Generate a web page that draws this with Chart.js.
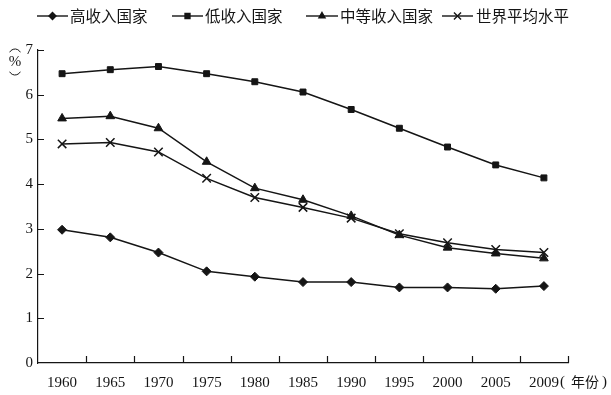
<!DOCTYPE html>
<html>
<head>
<meta charset="utf-8">
<script src="https://cdn.jsdelivr.net/npm/chart.js@4/dist/chart.umd.min.js"></script>
<style>
  html, body { margin: 0; padding: 0; background: #fff; }
  #wrap { width: 611px; height: 395px; }
</style>
</head>
<body>
<div id="wrap"><canvas id="lineChart" width="611" height="395"></canvas></div>
<script>
const years = ["1960", "1965", "1970", "1975", "1980", "1985", "1990", "1995", "2000", "2005", "2009"];
const seriesNames = ["高收入国家", "低收入国家", "中等收入国家", "世界平均水平"];
const highIncome = [2.98, 2.81, 2.47, 2.05, 1.93, 1.81, 1.81, 1.69, 1.69, 1.66, 1.72];
const lowIncome = [6.47, 6.56, 6.63, 6.47, 6.29, 6.06, 5.67, 5.25, 4.83, 4.43, 4.14];
const middleIncome = [5.47, 5.52, 5.25, 4.50, 3.91, 3.65, 3.29, 2.86, 2.58, 2.45, 2.34];
const worldAvg = [4.90, 4.93, 4.72, 4.13, 3.70, 3.48, 3.24, 2.89, 2.69, 2.54, 2.47];
const yTicks = [0, 1, 2, 3, 4, 5, 6, 7];

const ink = "#151515";
const serif = "'Liberation Serif', 'DejaVu Serif', serif";
const cjk = "'Noto Sans CJK SC', sans-serif";

function series(label, data, style, radius) {
  return {
    label: label,
    data: data,
    borderColor: ink,
    backgroundColor: ink,
    borderWidth: 1.5,
    pointStyle: style,
    pointRadius: radius,
    pointBorderWidth: style === "crossRot" ? 1.5 : 1,
    pointBackgroundColor: ink,
    pointBorderColor: ink,
    tension: 0,
  };
}

// ticks pointing inward, legend with line+marker, unit labels
const decor = {
  id: "decor",
  afterDraw(chart) {
    const ctx = chart.ctx;
    const xs = chart.scales.x, ys = chart.scales.y;
    const area = chart.chartArea;
    ctx.save();
    ctx.strokeStyle = ink;
    ctx.lineWidth = 1.2;
    ctx.beginPath();
    yTicks.forEach(v => {
      const y = Math.round(ys.getPixelForValue(v)) + 0.5;
      if (v === 0) return;
      ctx.moveTo(area.left, y);
      ctx.lineTo(area.left + 6, y);
    });
    for (let i = 1; i <= years.length; i++) {
      const x = Math.round(xs.getPixelForValue(i - 0.5)) + 0.5;
      ctx.moveTo(x, area.bottom);
      ctx.lineTo(x, area.bottom - 7);
    }
    ctx.stroke();

    // legend
    const items = [
      { x1: 37, x2: 68, tx: 70 },
      { x1: 172, x2: 203, tx: 205 },
      { x1: 306, x2: 338, tx: 340 },
      { x1: 442, x2: 473, tx: 476 },
    ];
    const ly = 16;
    chart.data.datasets.forEach((ds, i) => {
      const it = items[i];
      ctx.strokeStyle = ink;
      ctx.fillStyle = ink;
      ctx.lineWidth = 1.4;
      ctx.beginPath();
      ctx.moveTo(it.x1, ly);
      ctx.lineTo(it.x2, ly);
      ctx.stroke();
      Chart.helpers.drawPoint(ctx, {
        pointStyle: ds.pointStyle,
        radius: ds.pointStyle === "crossRot" ? 5 : 3.5,
        rotation: 0,
        borderWidth: 1.2,
      }, (it.x1 + it.x2) / 2, ly);
      ctx.font = "15.5px " + cjk;
      ctx.textAlign = "left";
      ctx.textBaseline = "middle";
      ctx.fillText(ds.label, it.tx, ly);
    });

    // vertical unit label: (%) written top to bottom
    ctx.fillStyle = ink;
    ctx.strokeStyle = ink;
    ctx.lineWidth = 1;
    ctx.beginPath();
    ctx.arc(15, 55, 6, Math.PI * 1.15, Math.PI * 1.85);
    ctx.stroke();
    ctx.beginPath();
    ctx.arc(15, 69, 6, Math.PI * 0.15, Math.PI * 0.85);
    ctx.stroke();
    ctx.textAlign = "center";
    ctx.textBaseline = "middle";
    ctx.font = "15px " + serif;
    ctx.fillText("%", 15, 62);

    // x unit
    ctx.textAlign = "left";
    ctx.font = "15px " + serif;
    ctx.fillText("(", 560, 382);
    ctx.fillText(")", 602, 382);
    ctx.font = "14px " + cjk;
    ctx.fillText("年份", 571, 382);
    ctx.restore();
  }
};

const config = {
  type: "line",
  data: {
    labels: years,
    datasets: [
      series(seriesNames[0], highIncome, "rectRot", 4.5),
      series(seriesNames[1], lowIncome, "rect", 4.2),
      series(seriesNames[2], middleIncome, "triangle", 5),
      series(seriesNames[3], worldAvg, "crossRot", 6),
    ],
  },
  options: {
    responsive: false,
    animation: false,
    layout: { padding: { left: 0, top: 50, right: 43, bottom: 0 } },
    plugins: {
      legend: { display: false },
      tooltip: { enabled: false },
    },
    scales: {
      x: {
        type: "category",
        offset: true,
        afterFit: s => { s.height = 32; },
        grid: { display: true, drawOnChartArea: false, drawTicks: false, offset: true },
        border: { display: true, color: ink, width: 1.2 },
        ticks: { color: ink, font: { family: serif, size: 15 }, padding: 11, maxRotation: 0, autoSkip: false },
      },
      y: {
        min: 0,
        max: 7,
        afterFit: s => { s.width = 38; },
        afterBuildTicks: s => { s.ticks = yTicks.map(v => ({ value: v })); },
        grid: { display: true, drawOnChartArea: false, drawTicks: false },
        border: { display: true, color: ink, width: 1.2 },
        ticks: { color: ink, font: { family: serif, size: 15 }, padding: 5 },
      },
    },
  },
  plugins: [decor],
};

new Chart(document.getElementById("lineChart"), config);
</script>
</body>
</html>
